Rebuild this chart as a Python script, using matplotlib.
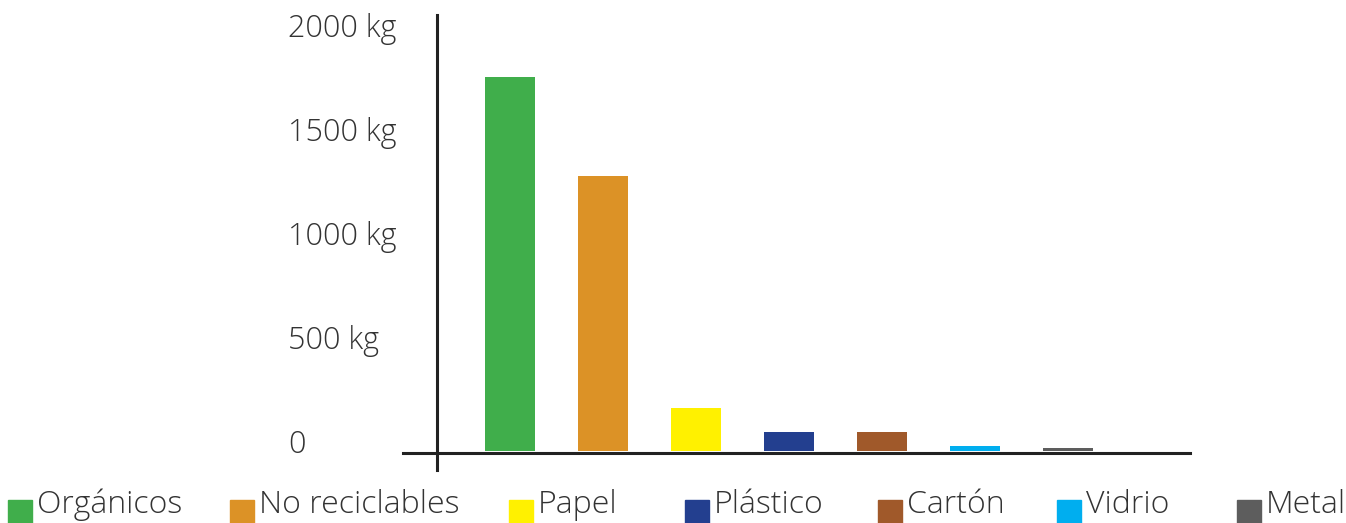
"""Waste by category bar chart (kg) with a legend row underneath."""
import matplotlib

matplotlib.use("Agg")
import matplotlib.pyplot as plt
from matplotlib.lines import Line2D
from matplotlib.patches import Rectangle

categories = ["Orgánicos", "No reciclables", "Papel", "Plástico", "Cartón", "Vidrio", "Metal"]
values_kg = [1800, 1320, 207, 91, 91, 24, 14]
colors = ["#40AE4B", "#DC9226", "#FFF100", "#233F8F", "#A0592A", "#00AEEF", "#5D5D5D"]
tick_values = [0, 500, 1000, 1500, 2000]
tick_labels = ["0", "500 kg", "1000 kg", "1500 kg", "2000 kg"]

W, H = 1346, 523
plt.rcParams["font.family"] = ["Open Sans", "DejaVu Sans"]
txt = dict(color="#333333", fontweight="light")

fig = plt.figure(figsize=(W / 100, H / 100), dpi=100)
ax = fig.add_axes([403 / W, 1 - 451 / H, (1190 - 403) / W, (451 - 35) / H])
x = list(range(len(categories)))
ax.bar(x, values_kg, width=0.54, color=colors)
ax.set_xlim(-(510 - 403) / 93, (1190 - 510) / 93)
ax.set_ylim(0, 2000)
ax.axis("off")

# y labels sit a bit above their value, left aligned
for v, lab in zip(tick_values, tick_labels):
    ax.annotate(lab, xy=(0, v), xycoords=("figure fraction", "data"),
                xytext=(288, 6), textcoords="offset pixels",
                ha="left", va="center", fontsize=22, **txt)

# axis lines
fig.add_artist(Line2D([437 / W, 437 / W], [1 - 15 / H, 1 - 470 / H], color="#222222", lw=2.2))
fig.add_artist(Line2D([403 / W, 1190 / W], [1 - 453 / H, 1 - 453 / H], color="#222222", lw=2.2))

# legend row (kept just inside the bottom edge so descenders aren't clipped)
sq_x = [8, 230, 509, 685, 878, 1057, 1237]
for sx, c, name in zip(sq_x, colors, categories):
    fig.add_artist(Rectangle((sx / W, 0), 24 / W, 23 / H, color=c, transform=fig.transFigure))
    fig.text((sx + 29) / W, 2 / H, name, ha="left", va="bottom", fontsize=23, **txt)

fig.savefig("out.png", dpi=100)
